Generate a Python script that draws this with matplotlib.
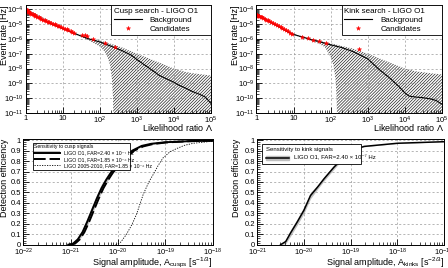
import numpy as np
import matplotlib
matplotlib.use("Agg")
from matplotlib import pyplot as plt
from matplotlib.patches import Rectangle
from matplotlib.ticker import FuncFormatter, LogLocator, MultipleLocator, NullFormatter

plt.rcParams['font.family'] = ['Liberation Sans', 'DejaVu Sans']
plt.rcParams['mathtext.fontset'] = 'custom'
plt.rcParams['mathtext.rm'] = 'Liberation Sans'
plt.rcParams['mathtext.it'] = 'Liberation Sans:italic'
plt.rcParams['hatch.linewidth'] = 0.5

## background / candidates (top panels)
lam = [1, 1.2, 1.5, 2, 3, 5, 7, 10, 20, 30, 50, 100, 200, 400, 700, 1000,
       2000, 4000, 7000, 1e4, 1.3e4, 2e4, 3e4, 5e4, 7e4, 1e5]
cusp_bkg = [1e-4, 6.5e-5, 4.5e-5, 3.1e-5, 1.8e-5, 1.0e-5, 7e-6, 5e-6, 2.4e-6, 1.6e-6,
            1.0e-6, 6.2e-7, 3.2e-7, 1.6e-7, 8e-8, 4e-8, 1.2e-8, 3.5e-9, 1.8e-9, 1.2e-9,
            8e-10, 5e-10, 3e-10, 1.8e-10, 1.2e-10, 4.5e-11]
kink_bkg = [4e-5, 3.4e-5, 2.8e-5, 1.7e-5, 1.0e-5, 5e-6, 3e-6, 2e-6, 1.2e-6, 9e-7,
            6.5e-7, 4e-7, 2.6e-7, 1.4e-7, 7e-8, 4.5e-8, 9e-9, 2.2e-9, 6e-10, 2.3e-10,
            1.4e-10, 1.2e-10, 1.1e-10, 9e-11, 7e-11, 4e-11]

cusp_band_lam = [1, 10, 20, 30, 50, 70, 100, 130, 160, 190, 210, 225, 232, 240, 400, 1000,
                 2000, 4000, 1e4, 2e4, 3e4, 5e4, 1e5]
cusp_band_hi = [1.1e-4, 5.5e-6, 2.7e-6, 1.8e-6, 1.15e-6, 9.5e-7, 8e-7, 6.5e-7, 5.3e-7, 4.8e-7,
                4.5e-7, 4.2e-7, 4.1e-7, 4e-7, 2.6e-7, 1.0e-7, 5e-8, 2.5e-8, 1e-8, 6e-9,
                5e-9, 4.2e-9, 3.4e-9]
cusp_band_lo = [9e-5, 4.5e-6, 2.1e-6, 1.4e-6, 8e-7, 5e-7, 3e-7, 1.5e-7, 6e-8, 1.5e-8,
                2e-9, 1e-10, 1e-12, 1e-12, 1e-12, 1e-12, 1e-12, 1e-12, 1e-12, 1e-12,
                1e-12, 1e-12, 1e-12]

kink_band_lam = [1, 10, 20, 30, 50, 70, 100, 120, 135, 145, 150, 160, 400, 1000,
                 2000, 4000, 1e4, 2e4, 5e4, 1e5]
kink_band_hi = [4.4e-5, 2.2e-6, 1.35e-6, 1.0e-6, 7.5e-7, 6e-7, 5e-7, 4.5e-7, 4.3e-7, 4.1e-7,
                4e-7, 3.8e-7, 2.2e-7, 1e-7, 5e-8, 2.5e-8, 1e-8, 6.5e-9, 4.8e-9, 4e-9]
kink_band_lo = [3.6e-5, 1.8e-6, 1.05e-6, 7.5e-7, 4.5e-7, 2.8e-7, 6e-8, 1.5e-8, 2e-9, 1e-10,
                1e-12, 1e-12, 1e-12, 1e-12, 1e-12, 1e-12, 1e-12, 1e-12, 1e-12, 1e-12]

cusp_cand_lam = [1.0, 1.02, 1.05, 1.08, 1.1, 1.15, 1.2, 1.25, 1.3, 1.4, 1.5, 1.6, 1.7, 1.8,
                 2.0, 2.2, 2.4, 2.6, 2.9, 3.2, 3.5, 3.9, 4.3, 4.8, 5.3, 5.9, 6.5, 7.2, 8.0,
                 9.0, 10, 11, 12.5, 14, 16, 18, 20, 32, 39, 45, 66, 137, 250]
cusp_cand_rate = [1.0e-4, 9.2e-5, 8.5e-5, 7.9e-5, 7.5e-5, 6.9e-5, 6.4e-5, 5.9e-5, 5.5e-5,
                  5.0e-5, 4.5e-5, 4.2e-5, 3.9e-5, 3.6e-5, 3.2e-5, 2.8e-5, 2.5e-5, 2.3e-5,
                  2.0e-5, 1.8e-5, 1.6e-5, 1.45e-5, 1.3e-5, 1.15e-5, 1.05e-5, 9.5e-6, 8.6e-6,
                  7.8e-6, 7.0e-6, 6.2e-6, 5.5e-6, 5.0e-6, 4.4e-6, 3.9e-6, 3.4e-6, 3.0e-6,
                  2.7e-6, 1.9e-6, 1.9e-6, 1.5e-6, 1.0e-6, 5.5e-7, 2.8e-7]

kink_cand_lam = [1.0, 1.03, 1.06, 1.1, 1.15, 1.2, 1.3, 1.4, 1.5, 1.65, 1.8, 2.0, 2.2, 2.5,
                 2.8, 3.1, 3.5, 4.0, 4.5, 5.0, 5.6, 6.3, 7.0, 8.0, 9.0, 17, 25, 34, 48, 73, 570]
kink_cand_rate = [4.0e-5, 3.9e-5, 3.8e-5, 3.6e-5, 3.5e-5, 3.4e-5, 3.1e-5, 2.9e-5, 2.7e-5,
                  2.3e-5, 2.0e-5, 1.75e-5, 1.55e-5, 1.3e-5, 1.12e-5, 1.0e-5, 8.5e-6, 7.0e-6,
                  6.0e-6, 5.2e-6, 4.5e-6, 3.8e-6, 3.2e-6, 2.6e-6, 2.2e-6, 1.35e-6, 1.1e-6,
                  9e-7, 7.2e-7, 5.2e-7, 2.2e-7]

## efficiency curves (bottom panels)
cusp_amp = [8.9e-22, 1.12e-21, 1.41e-21, 1.78e-21, 2.24e-21, 2.82e-21, 3.55e-21, 4.47e-21,
            5.62e-21, 7.08e-21, 1e-20, 1.41e-20, 2e-20, 3.16e-20, 5e-20, 1e-19, 3.16e-19, 1e-18]
cusp_eff = [0, 0.01, 0.05, 0.12, 0.22, 0.33, 0.44, 0.54, 0.62, 0.69, 0.77, 0.84, 0.9,
            0.945, 0.965, 0.98, 0.99, 0.995]
cusp_eff_lo = [0, 0.0, 0.03, 0.09, 0.18, 0.29, 0.40, 0.50, 0.59, 0.66, 0.75, 0.83, 0.89,
               0.94, 0.962, 0.978, 0.989, 0.994]
cusp_eff_hi = [0, 0.02, 0.07, 0.15, 0.26, 0.37, 0.48, 0.58, 0.65, 0.72, 0.79, 0.85, 0.91,
               0.95, 0.968, 0.982, 0.991, 0.996]
cusp_amp_far2 = [9.8e-22, 1.23e-21, 1.55e-21, 1.95e-21, 2.46e-21, 3.1e-21, 3.9e-21, 4.9e-21,
                 6.2e-21, 7.8e-21, 1.1e-20, 1.55e-20, 2.2e-20, 3.4e-20, 5.4e-20, 1.05e-19,
                 3.2e-19, 1e-18]
cusp_eff_far2 = [0, 0.01, 0.05, 0.12, 0.22, 0.33, 0.44, 0.54, 0.62, 0.69, 0.77, 0.84, 0.9,
                 0.94, 0.962, 0.978, 0.99, 0.995]
old_amp = [8.9e-21, 1.12e-20, 1.51e-20, 2e-20, 2.45e-20, 3.39e-20, 4.47e-20, 5.5e-20,
           7.08e-20, 8.9e-20, 1.26e-19, 1.74e-19, 2.51e-19, 3.89e-19, 6.3e-19, 1e-18]
old_eff = [0, 0.02, 0.10, 0.2, 0.29, 0.48, 0.6, 0.67, 0.76, 0.83, 0.89, 0.92, 0.95, 0.97,
           0.98, 0.99]

kink_amp = [3.16e-21, 4.07e-21, 5.13e-21, 7.24e-21, 1e-20, 1.38e-20, 1.95e-20, 2.69e-20,
            4.37e-20, 7.24e-20, 1.17e-19, 1.95e-19, 1e-18, 1e-17]
kink_eff = [0, 0.03, 0.11, 0.22, 0.33, 0.47, 0.55, 0.63, 0.74, 0.84, 0.91, 0.94, 0.97, 0.985]
kink_eff_lo = [0, 0.01, 0.08, 0.19, 0.30, 0.44, 0.53, 0.61, 0.72, 0.83, 0.905, 0.937, 0.968, 0.984]
kink_eff_hi = [0, 0.05, 0.14, 0.25, 0.36, 0.50, 0.57, 0.65, 0.76, 0.85, 0.915, 0.943, 0.972, 0.986]

TICK_FS = 5.5
LABEL_FS = 6.5


def pow_fmt(v, pos):
    e = int(round(np.log10(v)))
    if e == 0:
        return '1'
    if e == 1:
        return '10'
    return r'$10^{%d}$' % e


def style_axes(ax):
    ax.tick_params(which='both', direction='in', labelsize=TICK_FS, pad=1.5)
    ax.tick_params(which='major', length=4, width=0.6)
    ax.tick_params(which='minor', length=2, width=0.5)
    ax.grid(True, which='major', linestyle=(0, (3, 3)), color='0.6', linewidth=0.5)
    for s in ax.spines.values():
        s.set_linewidth(0.7)


def rate_panel(ax, bkg, band_lam, band_lo, band_hi, cand_lam, cand_rate, title, ylab_x):
    ax.fill_between(band_lam, band_lo, band_hi, facecolor='none', edgecolor='0.15',
                    hatch='/' * 11, linewidth=0)
    ax.plot(lam, bkg, color='black', lw=0.8, label='Background')
    ax.plot(cand_lam, cand_rate, ls='none', marker='*', ms=3.2, color='red',
            markeredgewidth=0.3, label='Candidates')
    ax.set_xscale('log')
    ax.set_yscale('log')
    ax.set_xlim(1, 1e5)
    ax.set_ylim(1e-11, 1.9e-4)
    ax.xaxis.set_major_formatter(FuncFormatter(pow_fmt))
    ax.yaxis.set_major_locator(LogLocator(base=10, numticks=20))
    ax.yaxis.set_minor_locator(LogLocator(base=10, subs=np.arange(2, 10), numticks=20))
    ax.yaxis.set_minor_formatter(NullFormatter())
    ax.xaxis.set_minor_formatter(NullFormatter())
    ax.set_xlabel(r'Likelihood ratio $\Lambda$', loc='right', fontsize=LABEL_FS)
    ax.set_ylabel('Event rate [Hz]', loc='top', fontsize=LABEL_FS)
    ax.xaxis.set_label_coords(1.01, -0.085)
    ax.yaxis.set_label_coords(ylab_x, 1.0)
    style_axes(ax)
    leg = ax.legend(loc='upper left', bbox_to_anchor=(0.46, 0.755, 0.54, 0.245),
                    mode='expand', borderaxespad=0, fontsize=5.8, title=title,
                    title_fontsize=5.8, alignment='left', fancybox=False,
                    edgecolor='black', framealpha=1, handlelength=3.5,
                    borderpad=0.3, labelspacing=0.2, handletextpad=1.0)
    leg.get_frame().set_linewidth(0.6)


def eff_panel(ax, xlim, xlabel, ylab_x):
    ax.set_xscale('log')
    ax.set_xlim(*xlim)
    ax.set_ylim(0, 1.01)
    ax.xaxis.set_major_formatter(FuncFormatter(lambda v, p: r'$10^{%d}$' % int(round(np.log10(v)))))
    ax.xaxis.set_minor_formatter(NullFormatter())
    ax.yaxis.set_major_locator(MultipleLocator(0.1))
    ax.yaxis.set_minor_locator(MultipleLocator(0.02))
    ax.yaxis.set_major_formatter(FuncFormatter(lambda v, p: '%g' % round(v, 1)))
    ax.set_xlabel(xlabel, loc='right', fontsize=LABEL_FS)
    ax.set_ylabel('Detection efficiency', loc='top', fontsize=LABEL_FS)
    ax.xaxis.set_label_coords(1.0, -0.1)
    ax.yaxis.set_label_coords(ylab_x, 1.0)
    style_axes(ax)


fig = plt.figure(figsize=(4.48, 2.68), dpi=100)

ax1 = fig.add_axes([0.058, 0.578, 0.413, 0.403])
rate_panel(ax1, cusp_bkg, cusp_band_lam, cusp_band_lo, cusp_band_hi,
           cusp_cand_lam, cusp_cand_rate, 'Cusp search - LIGO O1', -0.092)

ax2 = fig.add_axes([0.5725, 0.578, 0.414, 0.403])
rate_panel(ax2, kink_bkg, kink_band_lam, kink_band_lo, kink_band_hi,
           kink_cand_lam, kink_cand_rate, 'Kink search - LIGO O1', -0.089)

ax3 = fig.add_axes([0.052, 0.087, 0.423, 0.394])
eff_panel(ax3, (1e-22, 1e-18), r'Signal amplitude, A$_{\rm cusps}$ [s$^{-1/3}$]', -0.075)
band = ax3.fill_between(cusp_amp, cusp_eff_lo, cusp_eff_hi, color='0.75', lw=0)
ln, = ax3.plot(cusp_amp, cusp_eff, color='black', lw=1.4)
ax3.plot(cusp_amp_far2, cusp_eff_far2, color='black', lw=1.4, ls=(0, (6, 2)),
         label='LIGO O1, FAR=1.85 \u00d7 10\u207b\u2078 Hz')
ax3.plot(old_amp, old_eff, color='black', lw=0.6, ls=(0, (1.5, 1.5)),
         label='LIGO 2005-2010, FAR=1.85 \u00d7 10\u207b\u2078 Hz')
h, l = ax3.get_legend_handles_labels()
leg = ax3.legend([(band, ln)] + h, ['LIGO O1, FAR=2.40 \u00d7 10\u207b\u2077 Hz'] + l,
                 loc='upper left', bbox_to_anchor=(0.05, 0.74, 0.512, 0.225),
                 mode='expand', borderaxespad=0, fontsize=3.7,
                 title='Sensitivity to cusp signals', title_fontsize=3.7,
                 alignment='left', fancybox=False, edgecolor='black', framealpha=1,
                 handlelength=5, handleheight=0.6, borderpad=0.3, labelspacing=0.25)
leg.get_frame().set_linewidth(0.6)

ax4 = fig.add_axes([0.5743, 0.087, 0.4167, 0.394])
eff_panel(ax4, (1e-21, 1e-17), r'Signal amplitude, A$_{\rm kinks}$ [s$^{-2/3}$]', -0.087)
band4 = ax4.fill_between(kink_amp, kink_eff_lo, kink_eff_hi, color='0.75', lw=0)
ln4, = ax4.plot(kink_amp, kink_eff, color='black', lw=1.1)
leg4 = ax4.legend([(Rectangle((0, 0), 1, 1, color='0.75'), ln4)],
                  ['LIGO O1, FAR=2.40 \u00d7 10\u207b\u2077 Hz'],
                  loc='upper left', bbox_to_anchor=(0.025, 0.74, 0.53, 0.215),
                  mode='expand', borderaxespad=0, fontsize=4.3,
                  title='Sensitivity to kink signals', title_fontsize=4.3,
                  alignment='left', fancybox=False, edgecolor='black', framealpha=1,
                  handlelength=4, borderpad=0.6, labelspacing=0.5)
leg4.get_frame().set_linewidth(0.6)

fig.savefig('out.png', dpi=100)
